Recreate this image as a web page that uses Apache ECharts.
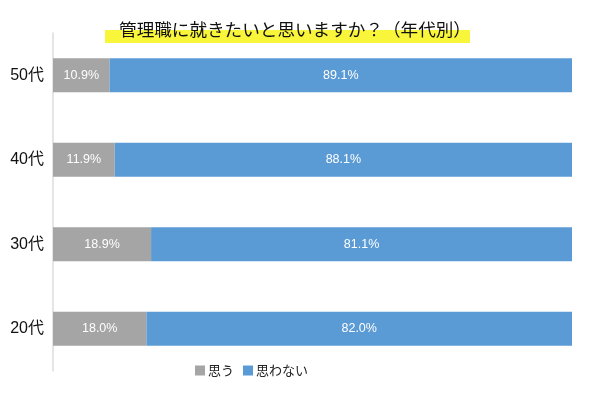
<!DOCTYPE html>
<html>
<head>
<meta charset="utf-8">
<script src="https://cdn.jsdelivr.net/npm/echarts@6/dist/echarts.min.js"></script>
<style>html,body{margin:0;padding:0;background:#fff}#c{width:590px;height:393px}</style>
</head>
<body>
<div id="c"></div>
<script>
const categories = ['20代', '30代', '40代', '50代'];
const seriesNames = ['思う', '思わない'];
const yesValues = [18.0, 18.9, 11.9, 10.9];
const noValues = [82.0, 81.1, 88.1, 89.1];
const titleText = '管理職に就きたいと思いますか？（年代別）';

const FONT = '"Liberation Sans", "Noto Sans CJK JP", sans-serif';
const chart = echarts.init(document.getElementById('c'));
const lbl = {
  show: true,
  color: '#fff',
  fontSize: 12.5,
  fontFamily: FONT,
  formatter: p => p.value.toFixed(1) + '%'
};
chart.setOption({
  animation: false,
  graphic: [{
    type: 'rect',
    z: 0,
    shape: { x: 105, y: 30, width: 365, height: 13 },
    style: { fill: '#F8F53A' }
  }],
  title: {
    text: titleText,
    left: 'center',
    top: 16,
    textStyle: { fontSize: 17.6, fontWeight: 'normal', color: '#111', fontFamily: '"Noto Sans CJK JP", sans-serif' },
    z: 10
  },
  legend: {
    data: seriesNames,
    left: 190,
    top: 359,
    itemWidth: 10,
    itemHeight: 10,
    itemGap: 9,
    icon: 'rect',
    textStyle: { fontSize: 13, color: '#222', fontFamily: '"Noto Sans CJK JP", sans-serif', padding: [0, 0, 0, -2] }
  },
  grid: { left: 53, right: 18, top: 33, bottom: 22 },
  xAxis: { type: 'value', min: 0, max: 100, show: false },
  yAxis: {
    type: 'category',
    data: categories,
    axisLine: { show: true, lineStyle: { color: '#DCDCDC', width: 1.5 } },
    axisTick: { show: false },
    axisLabel: { fontSize: 16, color: '#111', margin: 9, fontFamily: FONT }
  },
  series: [
    { name: seriesNames[0], type: 'bar', stack: 'a', data: yesValues, barWidth: 34, itemStyle: { color: '#A5A5A5' }, label: lbl },
    { name: seriesNames[1], type: 'bar', stack: 'a', data: noValues, barWidth: 34, itemStyle: { color: '#5B9BD5' }, label: lbl }
  ]
});
</script>
</body>
</html>
